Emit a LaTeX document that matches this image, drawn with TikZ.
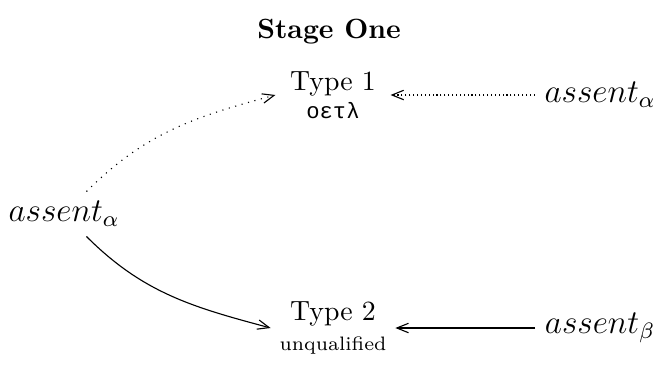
\documentclass[tikz,border=0pt]{standalone}
\usepackage{fontspec}
\usetikzlibrary{arrows.meta}
\newfontfamily\greekmono{Liberation Mono}
\begin{document}
\begin{tikzpicture}[x=0.3597pt, y=-0.3597pt,
    typebox/.style={align=center, minimum width=41pt, inner sep=3pt},
    assentlbl/.style={font=\large, inner sep=3.3pt},
    link/.style={-{Straight Barb[length=4.2pt, width=3.4pt]}}]
  \useasboundingbox (0,0) rectangle (656,372);
  \node (title) at (329,32) {\textbf{Stage One}};
  \node[typebox] (t1) at (333,95) {Type 1\\[-2pt]{\footnotesize\greekmono οετλ}};
  \node[typebox] (t2) at (333,328) {Type 2\\[-1pt]{\scriptsize unqualified}};
  \node[assentlbl] (a1) at (600,95) {$assent_\alpha$};
  \node[assentlbl] (a0) at (64,214) {$assent_\alpha$};
  \node[assentlbl] (b) at (600,328) {$assent_\beta$};
  \draw[link, densely dotted] (a1) -- (t1);
  \draw[link] (b) -- (t2);
  \draw[link, dotted] (a0) to[out=45, in=195] (t1.west);
  \draw[link] (a0) to[out=-45, in=165] (t2.west);
\end{tikzpicture}
\end{document}
